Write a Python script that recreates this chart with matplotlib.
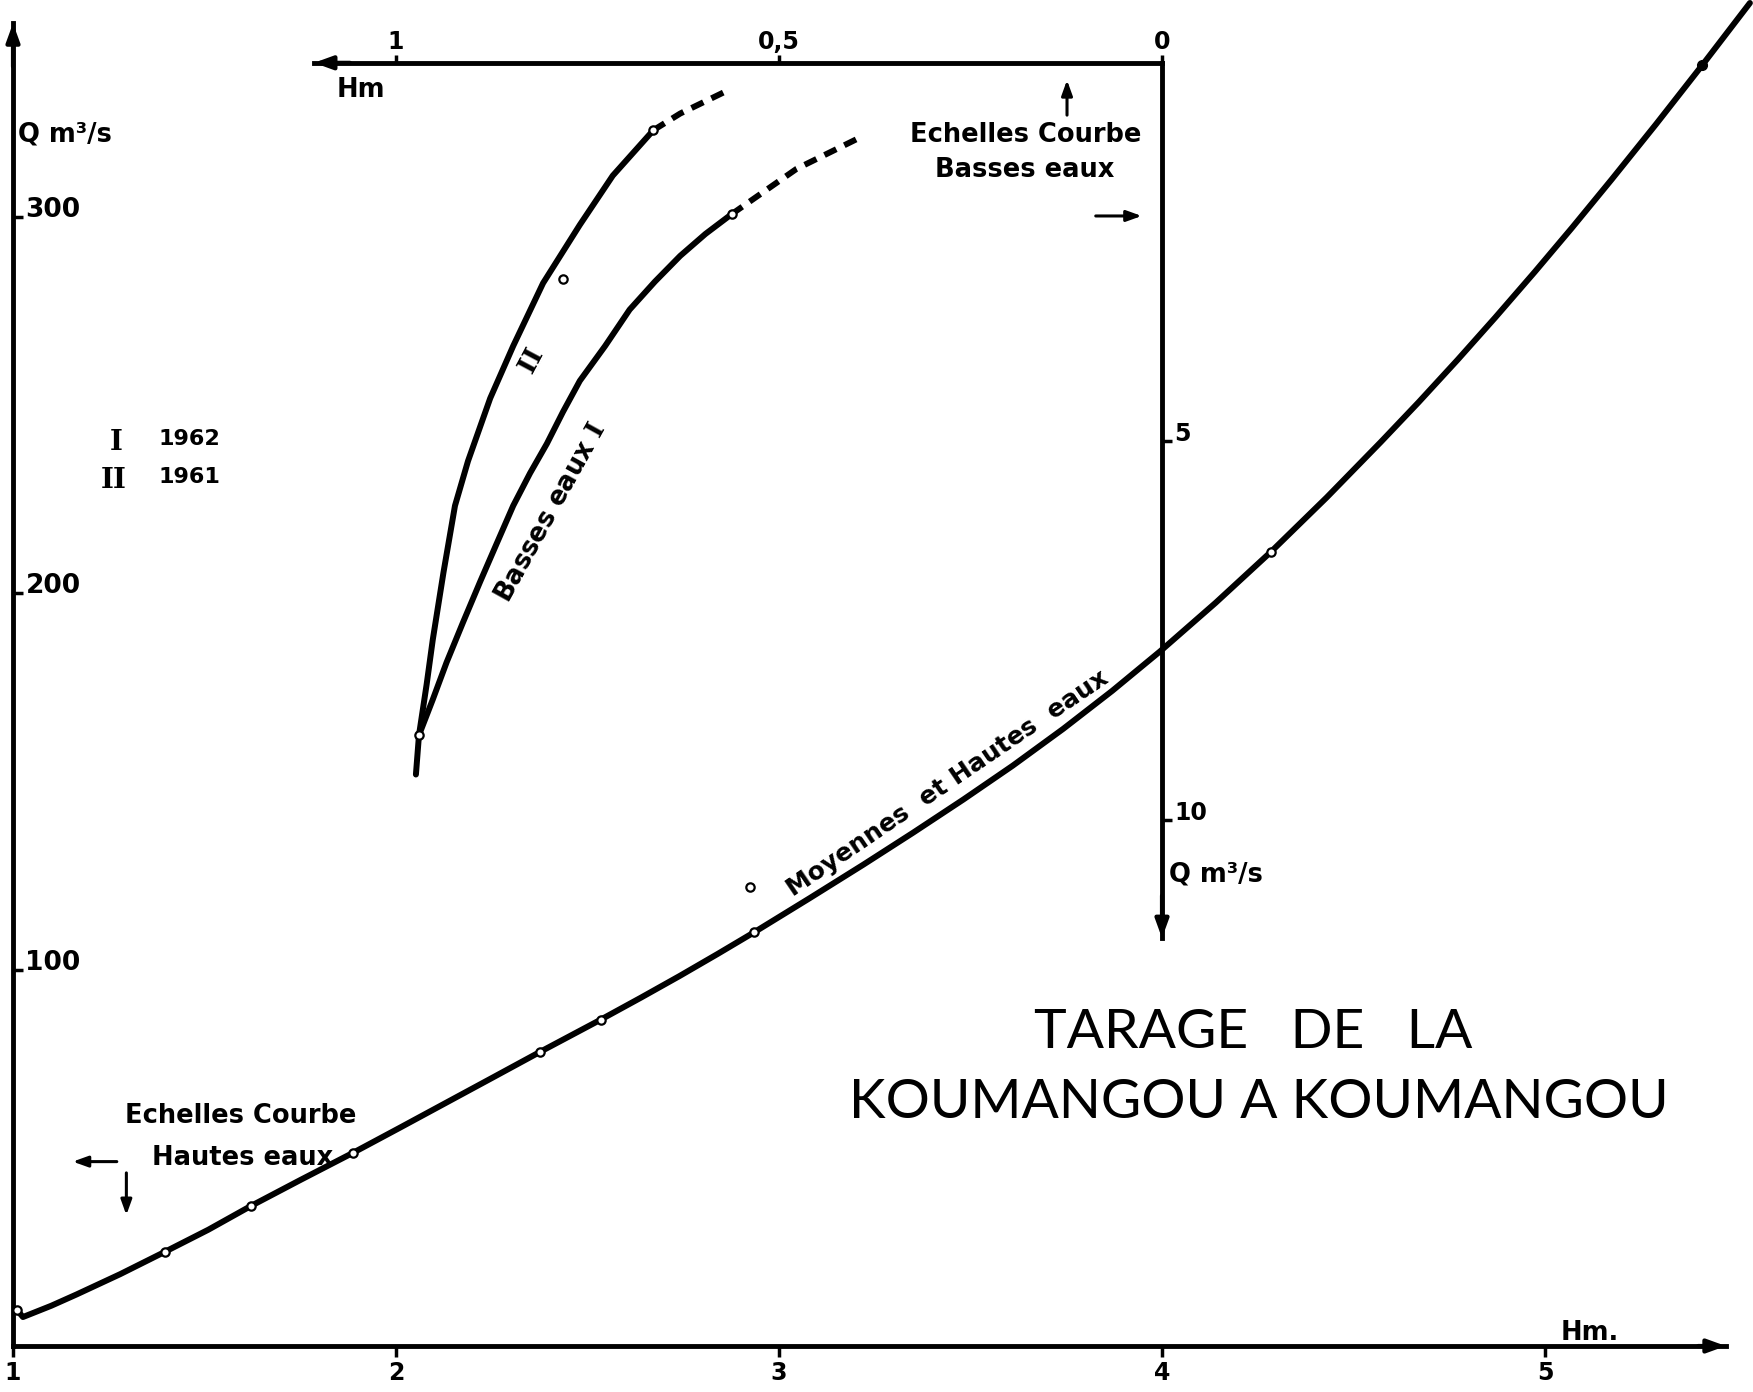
import matplotlib
matplotlib.use('Agg')
import matplotlib.pyplot as plt

plt.rcParams['font.family'] = 'DejaVu Sans'
plt.rcParams['font.weight'] = 'bold'
plt.rcParams['mathtext.fontset'] = 'dejavuserif'

# main rating curve "Moyennes et Hautes eaux" : stage Hm -> discharge Q m3/s
high_h = [1.011, 1.026, 1.100, 1.166, 1.280, 1.396, 1.510, 1.621, 1.750, 1.887,
          2.010, 2.130, 2.250, 2.375, 2.534, 2.640, 2.740, 2.840, 2.936, 3.080,
          3.220, 3.350, 3.481, 3.610, 3.742, 3.870, 3.995, 4.140, 4.285, 4.430,
          4.571, 4.670, 4.772, 4.870, 4.973, 5.070, 5.174, 5.290, 5.410, 5.535]
high_q = [9.5, 7.7, 10.7, 13.7, 19.1, 25.0, 30.9, 37.2, 44.1, 51.3,
          58.0, 64.6, 71.2, 78.1, 86.7, 92.6, 98.3, 104.2, 110.0, 119.0,
          127.9, 136.4, 145.2, 154.2, 164.0, 174.1, 184.6, 197.5, 211.1, 225.5,
          240.2, 250.8, 262.1, 273.3, 285.4, 297.1, 310.0, 324.7, 340.3, 356.9]
# gaugings on the high water curve
gauge_h = [1.011, 1.396, 1.621, 1.887, 2.375, 2.534, 2.936, 2.924, 4.285]
gauge_q = [9.5, 25.0, 37.2, 51.3, 78.1, 86.7, 110.0, 121.9, 211.1]
top_gauge_h = [5.410]
top_gauge_q = [340.3]

# low water curves (inset scales: Hm reversed on top, Q m3/s downward)
low_h_1961 = [0.974, 0.970, 0.960, 0.952, 0.938, 0.923, 0.906, 0.877, 0.847,
              0.808, 0.760, 0.717, 0.664]
low_q_1961 = [9.40, 8.88, 8.21, 7.62, 6.73, 5.85, 5.26, 4.43, 3.74,
              2.91, 2.14, 1.49, 0.89]
ext_h_1961 = [0.664, 0.629, 0.566]
ext_q_1961 = [0.89, 0.67, 0.36]
low_h_1962 = [0.970, 0.952, 0.934, 0.9125, 0.890, 0.869, 0.847, 0.825, 0.803,
              0.782, 0.760, 0.727, 0.695, 0.662, 0.629, 0.596, 0.562]
low_q_1962 = [8.88, 8.41, 7.92, 7.39, 6.85, 6.36, 5.85, 5.42, 5.03,
              4.61, 4.20, 3.74, 3.26, 2.89, 2.55, 2.26, 2.00]
ext_h_1962 = [0.562, 0.477, 0.399]
ext_q_1962 = [2.00, 1.40, 1.01]
low_gauge_h = [0.970, 0.664, 0.562, 0.782]
low_gauge_q = [8.88, 0.89, 2.00, 2.86]

main_xticks = [1, 2, 3, 4, 5]
main_yticks = [100, 200, 300]
inset_xticks = [1, 0.5, 0]
inset_xlabels = ['1', '0,5', '0']
inset_yticks = [5, 10]


def h_to_inset(x):
    # main stage scale -> inset stage scale
    return (4 - x) / 2


def q_to_inset(q):
    return (341 - q) / 20.12


W, H = 1753, 1392
fig = plt.figure(figsize=(W / 100, H / 100), dpi=100)
rect = [13 / W, 46 / H, 1 - 13 / W, 1 - 46 / H]
ax = fig.add_axes(rect)
xlim = (1, 1 + (W - 13) / 383)
ylim = (0, 1346 / 3.763)
ax.set_xlim(*xlim)
ax.set_ylim(*ylim)

axis_lw = 3.5
curve_lw = 4.3

for s in ['top', 'right']:
    ax.spines[s].set_visible(False)
ax.spines['left'].set_linewidth(axis_lw)
ax.spines['bottom'].set_linewidth(axis_lw)
ax.spines['left'].set_bounds(0, 351.5)
ax.spines['bottom'].set_bounds(1, 5.472)

ax.set_xticks(main_xticks)
ax.set_xticklabels([str(v) for v in main_xticks])
ax.set_yticks(main_yticks)
ax.set_yticklabels([str(v) for v in main_yticks])
ax.tick_params(axis='x', direction='out', length=8, width=2.5, pad=3, labelsize=17)
ax.tick_params(axis='y', direction='in', length=7, width=2.5, pad=-9, labelsize=19)
for t in ax.get_yticklabels():
    t.set_ha('left')
    t.set_va('baseline')

arrow_head = '-|>,head_length=0.55,head_width=0.2'
ax.annotate('', xy=(1, 351.5), xytext=(1, 340),
            arrowprops=dict(arrowstyle=arrow_head, lw=3, color='black',
                            mutation_scale=20, shrinkA=0, shrinkB=0))
ax.annotate('', xy=(5.472, 0), xytext=(5.40, 0),
            arrowprops=dict(arrowstyle=arrow_head, lw=3, color='black',
                            mutation_scale=20, shrinkA=0, shrinkB=0))

# high water curve
ax.plot(high_h, high_q, color='black', lw=curve_lw, solid_capstyle='round',
        solid_joinstyle='round', zorder=3)
ax.plot(gauge_h, gauge_q, 'o', ms=6, mfc='white', mec='black', mew=1.6,
        zorder=4, clip_on=False)
ax.plot(top_gauge_h, top_gauge_q, 'o', ms=7, color='black', zorder=4)

# inset axes with the low-water scales
ax2 = fig.add_axes(rect)
ax2.patch.set_visible(False)
ax2.set_xlim(h_to_inset(xlim[0]), h_to_inset(xlim[1]))
ax2.set_ylim(q_to_inset(ylim[0]), q_to_inset(ylim[1]))
for s in ['left', 'bottom']:
    ax2.spines[s].set_visible(False)
ax2.spines['top'].set_position(('data', 0))
ax2.spines['top'].set_bounds(0, 1.107)
ax2.spines['right'].set_position(('data', 0))
ax2.spines['right'].set_bounds(0, 11.56)
ax2.spines['top'].set_linewidth(axis_lw)
ax2.spines['right'].set_linewidth(axis_lw)
ax2.xaxis.tick_top()
ax2.yaxis.tick_right()
ax2.set_xticks(inset_xticks)
ax2.set_xticklabels(inset_xlabels)
ax2.set_yticks(inset_yticks)
ax2.set_yticklabels([str(v) for v in inset_yticks])
ax2.tick_params(axis='x', direction='out', length=6, width=2.5, pad=0, labelsize=17)
ax2.tick_params(axis='y', direction='out', length=7, width=2.5, pad=2, labelsize=17)
for t in ax2.get_yticklabels():
    t.set_va('baseline')

ax2.annotate('', xy=(1.107, 0), xytext=(1.06, 0),
             arrowprops=dict(arrowstyle=arrow_head, lw=3, color='black',
                             mutation_scale=20, shrinkA=0, shrinkB=0))
ax2.annotate('', xy=(0, 11.56), xytext=(0, 11.0),
             arrowprops=dict(arrowstyle=arrow_head, lw=3, color='black',
                             mutation_scale=20, shrinkA=0, shrinkB=0))

ax2.plot(low_h_1961, low_q_1961, color='black', lw=curve_lw,
         solid_capstyle='round', solid_joinstyle='round')
ax2.plot(ext_h_1961, ext_q_1961, color='black', lw=curve_lw,
         linestyle=(0, (2.2, 1.5)))
ax2.plot(low_h_1962, low_q_1962, color='black', lw=curve_lw,
         solid_capstyle='round', solid_joinstyle='round')
ax2.plot(ext_h_1962, ext_q_1962, color='black', lw=curve_lw,
         linestyle=(0, (2.2, 1.5)))
ax2.plot(low_gauge_h, low_gauge_q, 'o', ms=6, mfc='white', mec='black', mew=1.6,
         zorder=4)

# labels
lab = dict(fontsize=18.5, fontweight='bold', color='black')
ax.text(1.014, 320.0, 'Q m³/s', ha='left', va='baseline', **lab)
ax.text(4.017, 123.5, 'Q m³/s', ha='left', va='baseline', **lab)
ax.text(1.908, 332.0, 'Hm', ha='center', va='baseline', **lab)
ax.text(5.118, 1.6, 'Hm.', ha='center', va='baseline', **lab)

ax.text(3.644, 320.0, 'Echelles Courbe', ha='center', va='baseline', **lab)
ax.text(3.642, 310.7, 'Basses eaux', ha='center', va='baseline', **lab)
ax.text(1.594, 59.2, 'Echelles Courbe', ha='center', va='baseline', **lab)
ax.text(1.600, 48.1, 'Hautes eaux', ha='center', va='baseline', **lab)

thin = dict(arrowstyle='-|>,head_length=0.5,head_width=0.18', lw=2.2,
            color='black', mutation_scale=18, shrinkA=0, shrinkB=0)
ax.annotate('', xy=(3.752, 336.4), xytext=(3.752, 327.1), arrowprops=thin)
ax.annotate('', xy=(3.947, 300.3), xytext=(3.827, 300.3), arrowprops=thin)
ax.annotate('', xy=(1.156, 49.0), xytext=(1.271, 49.0), arrowprops=thin)
ax.annotate('', xy=(1.296, 34.8), xytext=(1.296, 46.0), arrowprops=thin)

# legend of the low water curves
ax.text(1.268, 238.1, r'$\mathbf{I}$', ha='center', va='baseline', fontsize=20)
ax.text(1.262, 227.9, r'$\mathbf{II}$', ha='center', va='baseline', fontsize=20)
ax.text(1.379, 239.4, '1962', ha='left', va='baseline', fontsize=16)
ax.text(1.379, 229.3, '1961', ha='left', va='baseline', fontsize=16)

# labels along the curves
ax.text(2.405, 221.5, r'Basses eaux $\mathbf{I}$', rotation=61,
        rotation_mode='anchor', ha='center', va='center', fontsize=18.5)
ax.text(2.354, 261.7, r'$\mathbf{II}$', rotation=62,
        rotation_mode='anchor', ha='center', va='center', fontsize=19)
ax.text(3.440, 149.6, 'Moyennes  et Hautes  eaux', rotation=34.2,
        rotation_mode='anchor', ha='center', va='center', fontsize=18)

# title
title = dict(fontsize=39.8, fontweight='normal', family='Lato', color='black')
ax.text(4.239, 79.1, 'TARAGE   DE   LA', ha='center', va='baseline', **title)
ax.text(4.253, 60.5, 'KOUMANGOU A KOUMANGOU', ha='center', va='baseline', **title)

fig.savefig('out.png', dpi=100, facecolor='white')
